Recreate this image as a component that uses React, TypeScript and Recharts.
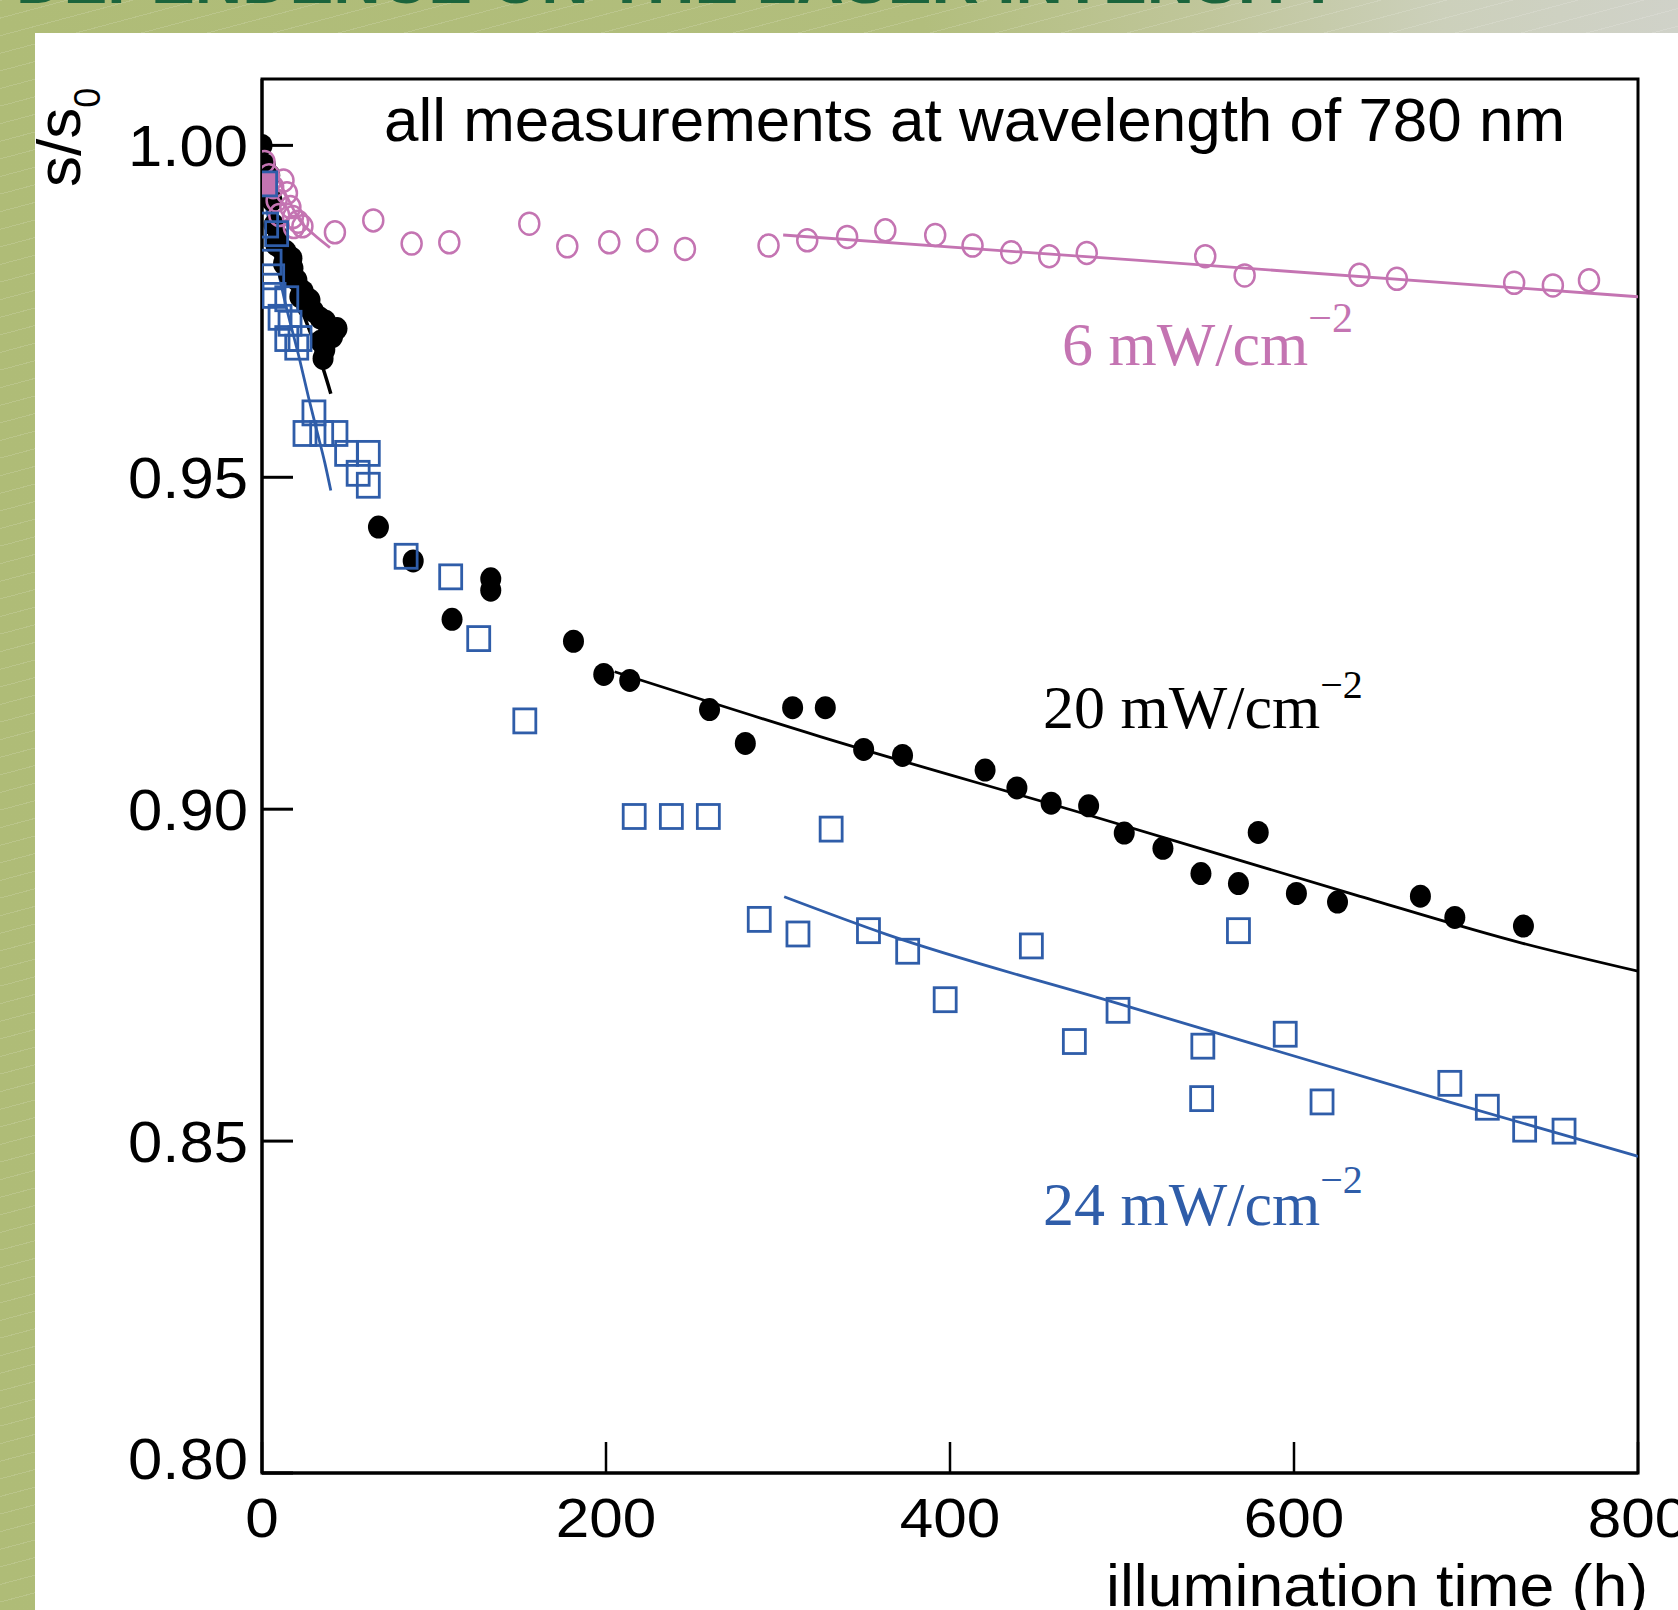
import React from 'react';
import { ComposedChart, XAxis, YAxis, Scatter, Line, ReferenceArea } from 'recharts';

const PINK = '#c474b2';
const BLUE = '#2f5da9';
const SANS = '"Liberation Sans", Arial, sans-serif';
const SERIF = '"Liberation Serif", "Times New Roman", serif';

const xTicks = [0, 200, 400, 600, 800];
const yTicks = [0.8, 0.85, 0.9, 0.95, 1.0];

// 6 mW/cm^-2 (open pink circles)
const pink6 = [
  [1.5, 0.9975], [4, 0.9955], [6.5, 0.9937], [8.5, 0.9917], [10, 0.9895], [12.5, 0.9947],
  [14.5, 0.9928], [16.5, 0.9907], [18, 0.9892], [18.5, 0.9877], [21, 0.9885], [23.5, 0.9878],
  [42.4, 0.9869], [64.7, 0.9887], [87, 0.9852], [108.9, 0.9854], [155.4, 0.9882], [177.5, 0.9848],
  [201.9, 0.9854], [224, 0.9857], [245.9, 0.9844],
  [294.5, 0.9849], [317, 0.9857], [340.2, 0.9862], [362.4, 0.9872], [391.4, 0.9865], [413.1, 0.9849],
  [435.6, 0.9839], [457.7, 0.9833], [479.5, 0.9838], [548.4, 0.9833], [571.3, 0.9804], [638, 0.9805],
  [659.8, 0.9799], [728, 0.9793], [750.5, 0.9789], [771.5, 0.9797],
];

// 20 mW/cm^-2 (filled black circles)
const black20 = [
  [0, 1.0], [2, 0.997], [4.5, 0.9955], [5.8, 0.9917], [7, 0.988], [8.1, 0.985], [9.5, 0.9862],
  [11, 0.9845], [12.5, 0.9822], [14, 0.984], [15.5, 0.9805], [17.4, 0.983], [18, 0.9815],
  [20.3, 0.9797], [22, 0.9772], [24, 0.978], [26, 0.9758], [27.9, 0.9767], [30, 0.975],
  [33.7, 0.974], [37, 0.9735], [39.5, 0.9721], [41, 0.9712], [43.6, 0.9724], [34, 0.9705],
  [36.5, 0.9692], [35.5, 0.9679],
  [67.7, 0.9425], [87.9, 0.9374], [110.5, 0.9286], [133, 0.9347], [133, 0.933], [181.1, 0.9253],
  [198.7, 0.9203], [213.8, 0.9194], [260.2, 0.915], [281, 0.9099], [308.5, 0.9153], [327.5, 0.9153],
  [349.8, 0.909], [372.4, 0.9081], [420.4, 0.9059], [438.9, 0.9032], [458.8, 0.9009], [480.6, 0.9005],
  [501.3, 0.8964], [523.8, 0.8941], [545.9, 0.8903], [567.7, 0.8888], [579.2, 0.8965], [601.4, 0.8873],
  [625.3, 0.886], [673.5, 0.8869], [693.5, 0.8837], [733.4, 0.8824],
];

// 24 mW/cm^-2 (open blue squares)
const blue24 = [
  [2.7, 0.988], [8.5, 0.9867], [4.7, 0.9824], [6.2, 0.9802], [7, 0.9774], [14.4, 0.9769],
  [10.5, 0.9741], [16.3, 0.9732], [14.4, 0.9709], [22.1, 0.9709], [20.2, 0.9696], [30.2, 0.9597],
  [25, 0.9566], [34.7, 0.9566], [43, 0.9566], [49.2, 0.9536], [61.8, 0.9536], [55.9, 0.9506],
  [61.8, 0.9488],
  [83.8, 0.9381], [109.7, 0.935], [126, 0.9257], [152.8, 0.9133], [216.4, 0.8989], [238, 0.8989],
  [259.5, 0.8989], [330.9, 0.897], [289.1, 0.8834], [311.6, 0.8812], [352.6, 0.8817], [375.4, 0.8786],
  [397.2, 0.8713], [447.3, 0.8794], [472.3, 0.865], [497.7, 0.8697], [547, 0.8643], [546.3, 0.8564],
  [567.7, 0.8817], [594.9, 0.8661], [616.3, 0.8559], [690.6, 0.8587], [712.4, 0.8551], [734.1, 0.8518],
  [757, 0.8515],
];
const blue24PinkFilled = [[2.1, 0.9942]];

// fitted curves
const pinkFitEarly = [[0, 0.9995], [8, 0.9955], [15, 0.992], [22, 0.9887], [30, 0.9866], [39.5, 0.9846]];
const pinkFitLate = [[303, 0.9865], [508, 0.9827], [800, 0.9772]];
const blackFitEarly = [[0, 1.0], [5, 0.993], [10, 0.9865], [20, 0.9775], [30, 0.9705], [36, 0.966], [40, 0.9626]];
const blackFitLate = [[205, 0.9207], [325, 0.9109], [479.5, 0.8992], [635.5, 0.8871], [733, 0.8798], [800, 0.8756]];
const blueFitEarly = [[0, 0.995], [5, 0.987], [12, 0.978], [22, 0.9676], [27, 0.9621], [31.8, 0.9571], [36.6, 0.9521], [40, 0.948]];
const blueFitLate = [[303.6, 0.8868], [363.5, 0.8811], [498, 0.8707], [690, 0.8559], [800, 0.8477]];

const toXY = (arr: number[][]) => arr.map(([x, y]) => ({ x, y }));

const PinkCircle = (p: any) => (
  <ellipse cx={p.cx} cy={p.cy} rx={10} ry={11} fill="none" stroke={PINK} strokeWidth={2.5} />
);
const BlackDot = (p: any) => <ellipse cx={p.cx} cy={p.cy} rx={10.5} ry={11.5} fill="#000" />;
const BlueSquare = (p: any) => (
  <rect x={p.cx - 11} y={p.cy - 12} width={22} height={24} fill="none" stroke={BLUE} strokeWidth={2.8} />
);
const BlueSquareFilled = (p: any) => (
  <rect x={p.cx - 11} y={p.cy - 12} width={22} height={24} fill={PINK} stroke={BLUE} strokeWidth={2.8} />
);

const YTick = (p: any) => {
  const v = p.payload.value;
  const shift = Math.abs(v - 0.8) < 1e-6 ? -15 : 0;
  return (
    <text x={p.x} y={p.y + shift} dy="0.355em" textAnchor="end" fontSize={58} fontFamily={SANS} fill="#000"
      textLength={120} lengthAdjust="spacingAndGlyphs">
      {v.toFixed(2)}
    </text>
  );
};

const XTick = (p: any) => {
  const label = String(p.payload.value);
  return (
    <text x={p.x} y={p.y} dy="0.71em" textAnchor="middle" fontSize={56} fontFamily={SANS} fill="#000"
      textLength={label.length * 33.5} lengthAdjust="spacingAndGlyphs">
      {label}
    </text>
  );
};

export default function App() {
  const W = 1678;
  const H = 1610;
  return (
    <div style={{ position: 'absolute', left: 0, top: 0, width: W, height: H, overflow: 'hidden' }}>
      <div
        style={{
          position: 'absolute', left: 0, top: 0, width: W, height: H,
          background: 'linear-gradient(90deg, #afbc77 0%, #b2be7d 55%, #c0c69b 72%, #ccd0bb 86%, #d0d2c9 100%)',
        }}
      />
      <div
        style={{
          position: 'absolute', left: 0, top: 0, width: W, height: H,
          background: 'repeating-linear-gradient(165deg, rgba(255,255,255,0.14) 0px, rgba(255,255,255,0.14) 1px, rgba(255,255,255,0) 1px, rgba(255,255,255,0) 17px)',
        }}
      />
      <div style={{ position: 'absolute', left: 35, top: 33, width: W - 35, height: H - 33, background: '#fff' }} />
      <div style={{ position: 'absolute', left: 0, top: 0 }}>
        <ComposedChart width={W} height={H} margin={{ top: 79, right: 40, bottom: 0, left: 0 }}>
          <XAxis
            type="number"
            dataKey="x"
            domain={[0, 800]}
            ticks={xTicks}
            interval={0}
            allowDataOverflow
            height={137}
            tickSize={-31}
            tickMargin={55}
            axisLine={{ stroke: '#000', strokeWidth: 3 }}
            tickLine={{ stroke: '#000', strokeWidth: 2.5 }}
            tick={XTick}
          />
          <YAxis
            type="number"
            dataKey="y"
            domain={[0.8, 1.01]}
            ticks={yTicks}
            interval={0}
            allowDataOverflow
            width={262}
            tickSize={-31}
            tickMargin={45}
            axisLine={{ stroke: '#000', strokeWidth: 3 }}
            tickLine={{ stroke: '#000', strokeWidth: 3 }}
            tick={YTick}
          />
          <ReferenceArea x1={0} x2={800} y1={0.8} y2={1.01} fill="none" fillOpacity={0} stroke="#000" strokeWidth={3} />
          <Scatter data={toXY(black20)} shape={BlackDot} isAnimationActive={false} />
          <Line data={toXY(blackFitEarly)} dataKey="y" type="monotone" dot={false} activeDot={false} stroke="#000" strokeWidth={3.5} isAnimationActive={false} />
          <Line data={toXY(blackFitLate)} dataKey="y" type="monotone" dot={false} activeDot={false} stroke="#000" strokeWidth={2.8} isAnimationActive={false} />
          <Scatter data={toXY(pink6)} shape={PinkCircle} isAnimationActive={false} />
          <Line data={toXY(pinkFitEarly)} dataKey="y" type="monotone" dot={false} activeDot={false} stroke={PINK} strokeWidth={2.8} isAnimationActive={false} />
          <Line data={toXY(pinkFitLate)} dataKey="y" type="monotone" dot={false} activeDot={false} stroke={PINK} strokeWidth={2.8} isAnimationActive={false} />
          <Scatter data={toXY(blue24PinkFilled)} shape={BlueSquareFilled} isAnimationActive={false} />
          <Scatter data={toXY(blue24)} shape={BlueSquare} isAnimationActive={false} />
          <Line data={toXY(blueFitEarly)} dataKey="y" type="monotone" dot={false} activeDot={false} stroke={BLUE} strokeWidth={2.8} isAnimationActive={false} />
          <Line data={toXY(blueFitLate)} dataKey="y" type="monotone" dot={false} activeDot={false} stroke={BLUE} strokeWidth={2.8} isAnimationActive={false} />
        </ComposedChart>
      </div>
      <svg width={W} height={H} style={{ position: 'absolute', left: 0, top: 0, pointerEvents: 'none' }}>
        <text x={16} y={3} fontSize={66} fontWeight="bold" fill="#1b643c" fontFamily={SANS} textLength={1324} lengthAdjust="spacingAndGlyphs">
          DEPENDENCE ON THE LASER INTENSITY
        </text>
        <text x={384} y={141} fontSize={61} fill="#000" fontFamily={SANS} textLength={1181} lengthAdjust="spacingAndGlyphs">
          all measurements at wavelength of 780 nm
        </text>
        <text transform="translate(80,187) rotate(-90)" fontSize={62} fill="#000" fontFamily={SANS}>
          s/s<tspan fontSize={36} dy={20}>0</tspan>
        </text>
        <text x={1106} y={1606} fontSize={60} fill="#000" fontFamily={SANS} textLength={542} lengthAdjust="spacingAndGlyphs">
          illumination time (h)
        </text>
        <text x={1062} y={365} fontSize={62} fill={PINK} fontFamily={SERIF}>
          6 mW/cm<tspan fontSize={42} dy={-33}>−2</tspan>
        </text>
        <text x={1043} y={728} fontSize={62} fill="#000" fontFamily={SERIF}>
          20 mW/cm<tspan fontSize={40} dy={-30}>−2</tspan>
        </text>
        <text x={1043} y={1225} fontSize={62} fill={BLUE} fontFamily={SERIF}>
          24 mW/cm<tspan fontSize={40} dy={-32}>−2</tspan>
        </text>
      </svg>
    </div>
  );
}
